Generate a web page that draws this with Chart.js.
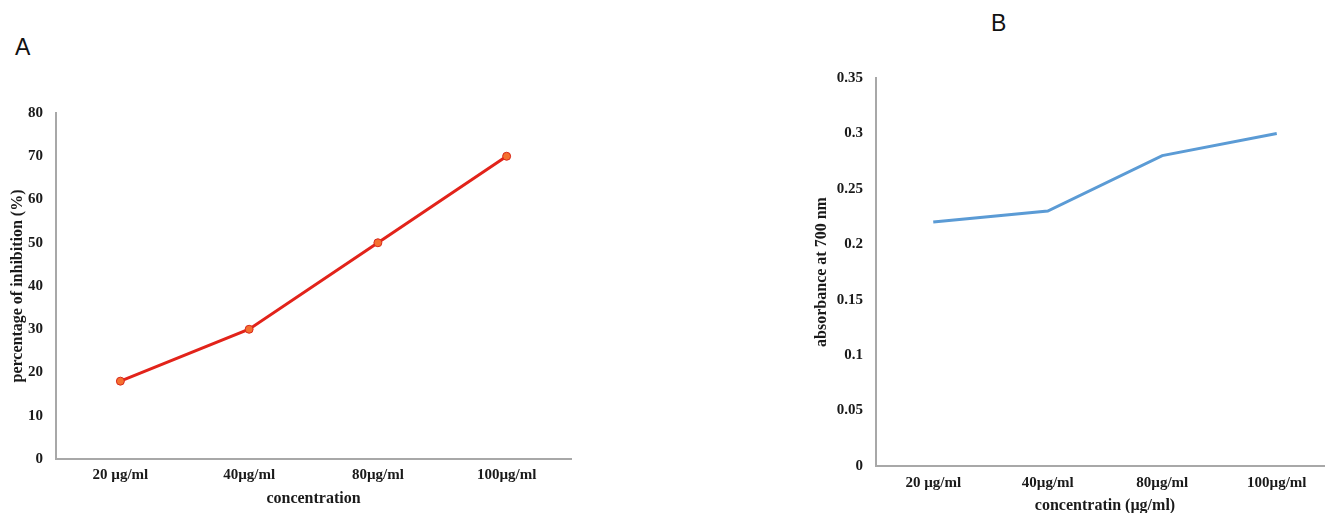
<!DOCTYPE html>
<html>
<head>
<meta charset="utf-8">
<script src="https://cdn.jsdelivr.net/npm/chart.js@4.4.1/dist/chart.umd.min.js"></script>
<style>
  html, body { margin: 0; padding: 0; background: #ffffff; }
  body { width: 1325px; height: 513px; overflow: hidden; position: relative; }
  canvas { position: absolute; top: 0; }
  #chartA { left: 0; }
  #chartB { left: 780px; }
  .panel { position: absolute; font-family: "Liberation Sans", Arial, sans-serif; font-size: 23px; line-height: 23px; color: #111; }
  #labelA { left: 15px; top: 36px; }
  #labelB { left: 991px; top: 12px; }
</style>
</head>
<body>
<div class="panel" id="labelA">A</div>
<div class="panel" id="labelB">B</div>
<canvas id="chartA" width="600" height="513"></canvas>
<canvas id="chartB" width="570" height="516"></canvas>
<script>
// Concentrations tested (shared by both panels)
const concentrations = ['20 µg/ml', '40µg/ml', '80µg/ml', '100µg/ml'];

// Panel A: inhibition (%)
const inhibition = [18, 30, 50, 70];

// Panel B: absorbance at 700 nm
const absorbance = [0.22, 0.23, 0.28, 0.30];

const tickFont = { family: 'Liberation Serif', weight: 'bold', size: 15 };
const titleFont = { family: 'Liberation Serif', weight: 'bold', size: 16 };
const textColor = '#1a1a1a';
const axisColor = '#a8a8a8';

function baseOptions(cfg) {
  return {
    responsive: false,
    animation: false,
    events: [],
    layout: { padding: cfg.padding },
    plugins: { legend: { display: false }, tooltip: { enabled: false } },
    scales: {
      x: {
        type: 'category',
        offset: true,
        grid: { display: false, drawTicks: false },
        border: { display: true, color: axisColor, width: 2 },
        ticks: { font: tickFont, color: textColor, padding: cfg.xTickPad, maxRotation: 0 },
        title: { display: true, text: cfg.xTitle, font: titleFont, color: textColor,
                 padding: { top: 0, bottom: cfg.xTitlePad } },
        afterFit: s => { s.height = cfg.xHeight; }
      },
      y: {
        min: 0,
        max: cfg.yMax,
        grid: { display: false, drawTicks: false },
        border: { display: true, color: axisColor, width: 2 },
        ticks: { stepSize: cfg.yStep, font: tickFont, color: textColor, padding: 13,
                 callback: v => String(Number(v.toFixed(2))) },
        title: { display: true, text: cfg.yTitle, font: titleFont, color: textColor,
                 padding: { top: cfg.yTitlePad, bottom: 0 } },
        afterFit: s => { s.width = cfg.yWidth; }
      }
    }
  };
}

new Chart(document.getElementById('chartA'), {
  type: 'line',
  data: {
    labels: concentrations,
    datasets: [{
      data: inhibition,
      borderColor: '#e2231a',
      borderWidth: 3,
      tension: 0,
      pointRadius: 4,
      pointBackgroundColor: '#f5702f',
      pointBorderColor: '#d8281c',
      pointBorderWidth: 1
    }]
  },
  options: baseOptions({
    padding: { top: 113, right: 29, left: 0, bottom: 0 },
    xTitle: 'concentration', yTitle: 'percentage of inhibition (%)',
    yMax: 80, yStep: 10,
    xHeight: 54, yWidth: 56,
    xTickPad: 7, xTitlePad: 5, yTitlePad: 8
  })
});

new Chart(document.getElementById('chartB'), {
  type: 'line',
  data: {
    labels: concentrations,
    datasets: [{
      data: absorbance,
      borderColor: '#5b9bd5',
      borderWidth: 3,
      tension: 0,
      pointRadius: 0
    }]
  },
  options: baseOptions({
    padding: { top: 78, right: 16, left: 0, bottom: 0 },
    xTitle: 'concentratin (µg/ml)', yTitle: 'absorbance at 700 nm',
    yMax: 0.35, yStep: 0.05,
    xHeight: 50, yWidth: 96,
    xTickPad: 8, xTitlePad: 1, yTitlePad: 32
  })
});
</script>
</body>
</html>
